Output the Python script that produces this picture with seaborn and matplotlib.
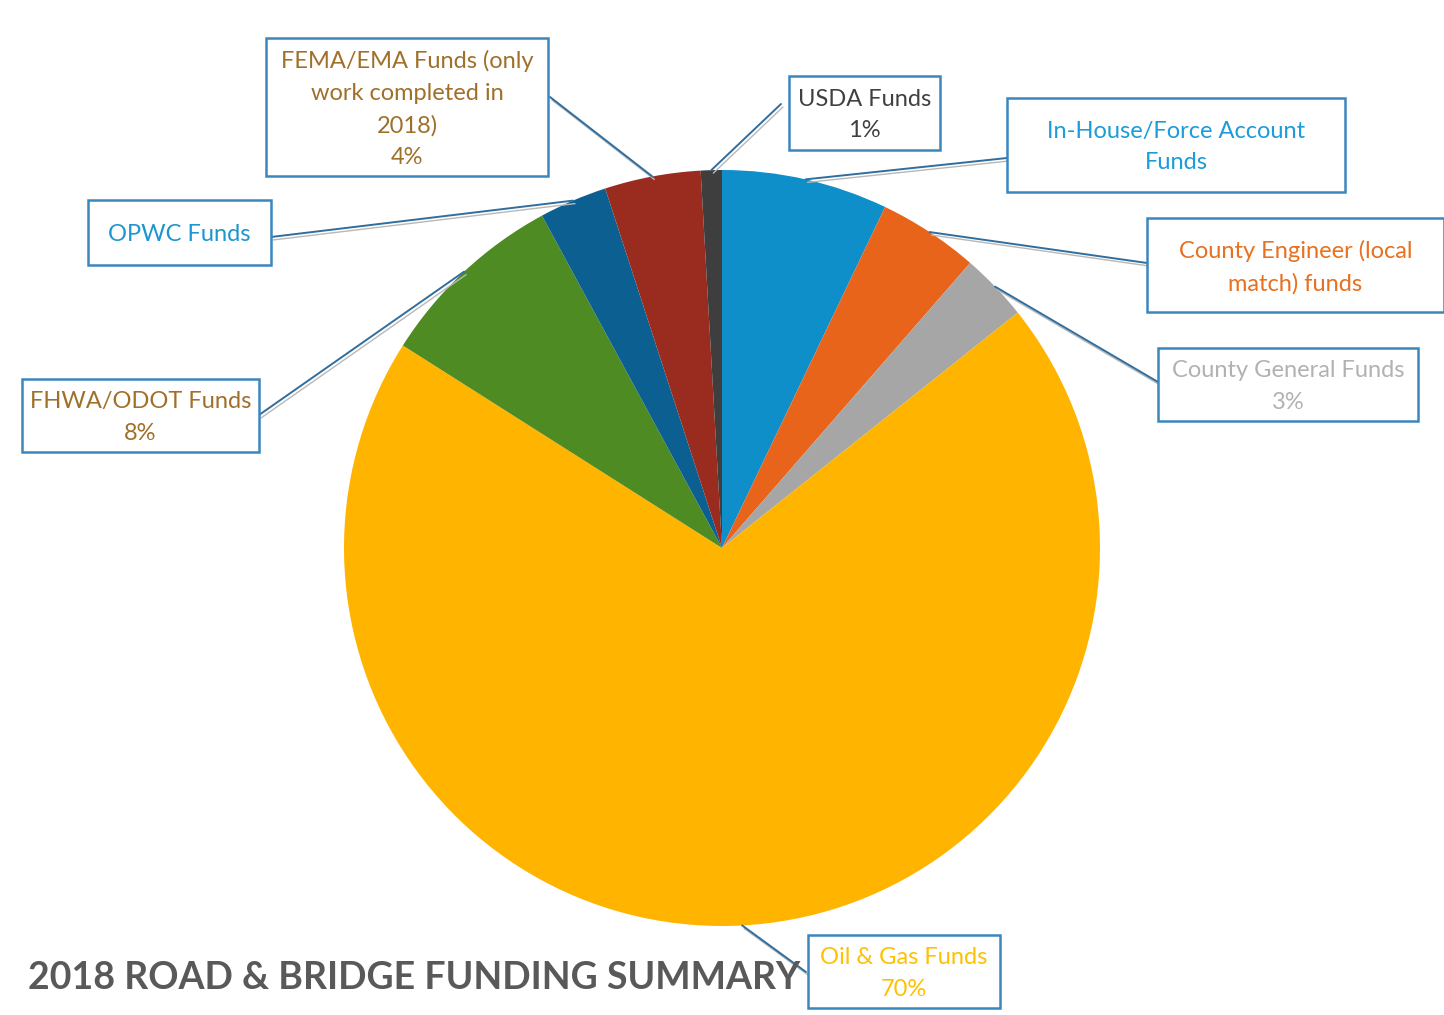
import numpy as np
import matplotlib
matplotlib.use("Agg")
import matplotlib.pyplot as plt
from matplotlib.patches import Rectangle
import seaborn as sns

# data (clockwise from 12 o'clock)
sources = ["In-House/Force Account Funds", "County Engineer (local match) funds",
           "County General Funds", "Oil & Gas Funds", "FHWA/ODOT Funds",
           "OPWC Funds", "FEMA/EMA Funds (only work completed in 2018)", "USDA Funds"]
shares = [7.1, 4.3, 2.9, 69.7, 8.1, 2.9, 4.1, 0.9]
label_text = ["In-House/Force Account\nFunds", "County Engineer (local\nmatch) funds",
              "County General Funds\n3%", "Oil & Gas Funds\n70%", "FHWA/ODOT Funds\n8%",
              "OPWC Funds", "FEMA/EMA Funds (only\nwork completed in\n2018)\n4%",
              "USDA Funds\n1%"]
slice_colors = ["#0F8FC9", "#E8641B", "#A6A6A6", "#FFB400", "#4E8B22",
                "#0C5F91", "#9A2B1F", "#3E3E3E"]
text_colors = ["#1C9CD8", "#E8701E", "#B2B2B2", "#FFC000", "#A0702A",
               "#1C96CF", "#A0702A", "#404040"]

# box layout in pixel coords (x0, y0 top, x1, y1 bottom), anchor of leader on the box
boxes = [(1007, 98, 1345, 192), (1147, 218, 1444, 312), (1158, 348, 1418, 421),
         (808, 935, 1000, 1008), (22, 379, 259, 452), (88, 200, 271, 265),
         (266, 38, 548, 176), (789, 76, 940, 150)]
anchors = [(1007, 158), (1147, 263), (1158, 382), (806, 972), (259, 415),
           (271, 237), (550, 97), (781, 104)]

W, H = 1444, 1015
sns.set_theme(style="white")
plt.rcParams['font.family'] = ['Lato', 'DejaVu Sans']

fig = plt.figure(figsize=(W / 100, H / 100), dpi=100)
ax = fig.add_axes([0, 0, 1, 1])

cx, cy, r = 722, H - 548, 378
wedges, _ = ax.pie(shares, colors=slice_colors, startangle=90, counterclock=False,
                   center=(cx, cy), radius=r, wedgeprops=dict(linewidth=0))

for w, txt, tc, (x0, y0, x1, y1), (ax_, ay_) in zip(wedges, label_text, text_colors, boxes, anchors):
    mid = np.deg2rad((w.theta1 + w.theta2) / 2)
    px, py = cx + r * np.cos(mid), cy + r * np.sin(mid)
    # leader line with a faint grey double
    ax.plot([px + 2, ax_ + 2], [py - 3, H - ay_ - 3], color="#B8B8B8", lw=1.0, zorder=3)
    ax.plot([px, ax_], [py, H - ay_], color="#2F6E9E", lw=1.4, zorder=4)
    ax.add_patch(Rectangle((x0, H - y1), x1 - x0, y1 - y0, facecolor="white",
                           edgecolor="#3A86BE", lw=1.8, zorder=5))
    ax.text((x0 + x1) / 2, H - (y0 + y1) / 2 - 2, txt, ha="center", va="center",
            fontsize=17, color=tc, linespacing=1.62, zorder=6)

ax.text(28, H - 978, "2018 ROAD & BRIDGE FUNDING SUMMARY", ha="left", va="center",
        fontsize=27, fontweight="bold", color="#595959", zorder=6)

ax.set_xlim(0, W)
ax.set_ylim(0, H)
ax.set_aspect("auto")
ax.axis("off")
fig.savefig("out.png", dpi=100, facecolor="white")
